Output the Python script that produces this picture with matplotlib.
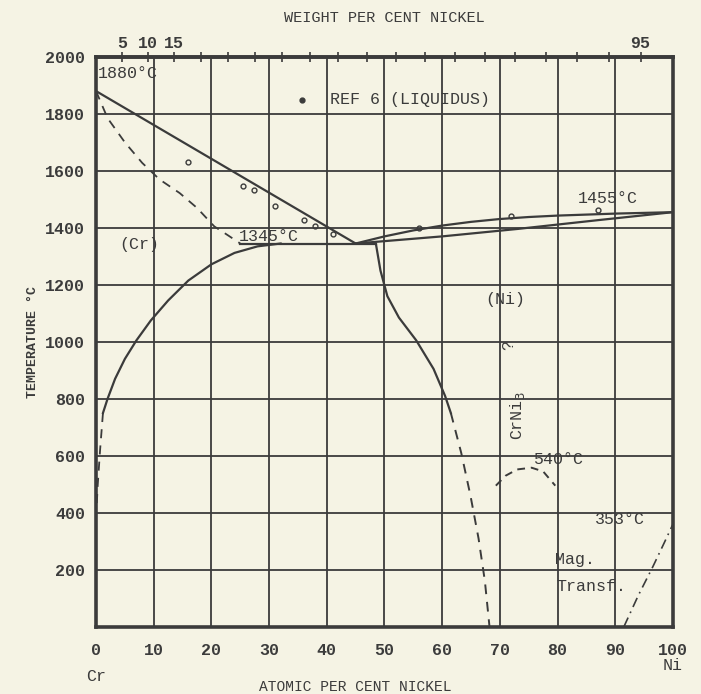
import numpy as np
import matplotlib
matplotlib.use("Agg")
import matplotlib.pyplot as plt

# --- data (atomic % Ni, deg C) ---
cr_liq_x = [0, 45]
cr_liq_y = [1880, 1345]

cr_sol_x = [0, 2, 5, 8, 11, 14.5, 17.5, 20.5, 23, 25]
cr_sol_y = [1880, 1785, 1700, 1628, 1570, 1522, 1470, 1405, 1372, 1345]

cr_solv_x = [32, 28, 24, 20, 16, 12.5, 9.5, 7, 5, 3.3, 2, 1.2]
cr_solv_y = [1345, 1335, 1312, 1272, 1215, 1145, 1075, 1005, 940, 870, 800, 750]
cr_solv_dash_x = [1.2, 0.7, 0.3, 0.1]
cr_solv_dash_y = [750, 620, 500, 420]

eut_x = [25, 48.5]
eut_y = [1345, 1345]

ni_liq_x = [45, 50, 55, 60, 65, 70, 75, 80, 90, 100]
ni_liq_y = [1345, 1370, 1391, 1408, 1421, 1431, 1438, 1443, 1450, 1455]
ni_sol_x = [45, 60, 73, 87, 100]
ni_sol_y = [1345, 1370, 1396, 1427, 1455]

ni_solv_x = [48.5, 49.3, 50.5, 52.5, 55.5, 58.5, 60.5, 61.5]
ni_solv_y = [1345, 1250, 1160, 1085, 1005, 905, 810, 750]
ni_solv_dash_x = [61.5, 63.3, 64.9, 66.3, 67.4, 68.2]
ni_solv_dash_y = [750, 610, 460, 310, 160, 0]

dome_x = [69.3, 71, 73, 75.5, 77.5, 79.6]
dome_y = [495, 530, 552, 558, 545, 495]

mag_x = [91.5, 94, 96.5, 98.5, 100]
mag_y = [0, 110, 210, 295, 360]

ref_x = [16, 25.5, 27.3, 31, 36, 38, 41, 56, 72, 87]
ref_y = [1630, 1548, 1533, 1478, 1428, 1407, 1378, 1400, 1440, 1463]

wt_ticks = list(range(5, 100, 5))
wt_labels = ["5", "10", "15"] + [""] * 15 + ["95"]

at_ticks = list(range(0, 101, 10))
temp_ticks = list(range(200, 2001, 200))

INK = "#3b3b3b"
PAPER = "#f5f3e4"
FONT = "Liberation Mono"


def wt_to_at(w):
    w = np.asarray(w, dtype=float)
    a = w / 58.69
    b = (100 - w) / 52.00
    return 100 * a / (a + b)


def at_to_wt(x):
    x = np.asarray(x, dtype=float)
    a = x * 58.69
    b = (100 - x) * 52.00
    return 100 * a / (a + b)


fig = plt.figure(figsize=(7.01, 6.94), dpi=100, facecolor=PAPER)
ax = fig.add_axes([0.137, 0.097, 0.823, 0.821], facecolor=PAPER)

ax.set_xlim(0, 100)
ax.set_ylim(0, 2000)
ax.set_xticks(at_ticks)
ax.set_yticks(temp_ticks)
ax.grid(True, color=INK, lw=1.3)
ax.tick_params(length=0, labelsize=12, colors=INK)
ax.tick_params(axis="x", pad=12)
ax.tick_params(axis="y", pad=8)
for lab in ax.get_xticklabels() + ax.get_yticklabels():
    lab.set_family(FONT)
    lab.set_weight("bold")
for s in ax.spines.values():
    s.set_color(INK)
    s.set_linewidth(2.6)

lw = 1.6
ax.plot(cr_liq_x, cr_liq_y, color=INK, lw=lw)
ax.plot(cr_sol_x, cr_sol_y, color=INK, lw=1.3, ls=(0, (5, 4)))
ax.plot(cr_solv_x, cr_solv_y, color=INK, lw=lw)
ax.plot(cr_solv_dash_x, cr_solv_dash_y, color=INK, lw=1.3, ls=(0, (5, 4)))
ax.plot(eut_x, eut_y, color=INK, lw=lw)
ax.plot(ni_liq_x, ni_liq_y, color=INK, lw=lw)
ax.plot(ni_sol_x, ni_sol_y, color=INK, lw=lw)
ax.plot(ni_solv_x, ni_solv_y, color=INK, lw=lw)
ax.plot(ni_solv_dash_x, ni_solv_dash_y, color=INK, lw=1.4, ls=(0, (5, 4)))
ax.plot(dome_x, dome_y, color=INK, lw=1.4, ls=(0, (4, 3)))
ax.plot(mag_x, mag_y, color=INK, lw=1.2, ls=(0, (6, 3, 1, 3)))
ax.plot(ref_x, ref_y, ls="none", marker="o", ms=3.5, mfc="none", mec=INK, mew=1.0)
ax.plot([35.7], [1850], ls="none", marker="o", ms=3.5, mfc=INK, mec=INK)

tk = dict(family=FONT, color=INK, fontsize=12)
ax.text(0.3, 1915, "1880\u00b0C", va="bottom", ha="left", **tk)
ax.text(40.5, 1850, "REF 6 (LIQUIDUS)", va="center", ha="left", **tk)
ax.text(30, 1368, "1345\u00b0C", va="center", ha="center", **tk)
ax.text(83.5, 1475, "1455\u00b0C", va="bottom", ha="left", **tk)
ax.text(4, 1340, "(Cr)", va="center", ha="left", **tk)
ax.text(71, 1150, "(Ni)", va="center", ha="center", **tk)
ax.text(71.5, 990, "?", va="center", ha="center", rotation=90, **tk)
ax.text(73, 740, "CrNi$_3$", va="center", ha="center", rotation=90, **tk)
ax.text(75.8, 560, "540\u00b0C", va="bottom", ha="left", **tk)
ax.text(86.5, 375, "353\u00b0C", va="center", ha="left", **tk)
ax.text(79.5, 235, "Mag.", va="center", ha="left", **tk)
ax.text(79.8, 140, "Transf.", va="center", ha="left", **tk)

ax.text(0, -0.075, "Cr", transform=ax.transAxes, ha="center", va="top", **tk)
ax.text(1.0, -0.055, "Ni", transform=ax.transAxes, ha="center", va="top", **tk)
ax.text(0.45, -0.093, "ATOMIC PER CENT NICKEL", transform=ax.transAxes,
        ha="center", va="top", family=FONT, color=INK, fontsize=10.5)
ax.set_ylabel("TEMPERATURE \u00b0C", family=FONT, fontsize=9.5, color=INK,
              labelpad=4, fontweight="bold")

top = ax.secondary_xaxis("top", functions=(at_to_wt, wt_to_at))
top.set_xticks(wt_ticks)
top.set_xticklabels(wt_labels)
top.tick_params(direction="inout", length=7, width=1.2, colors=INK, labelsize=12, pad=1)
for lab in top.get_xticklabels():
    lab.set_family(FONT)
    lab.set_weight("bold")
top.spines["top"].set_linewidth(2.6)
top.spines["top"].set_color(INK)
top.set_xlabel("WEIGHT PER CENT NICKEL", family=FONT, fontsize=11, color=INK,
               labelpad=10)

fig.savefig("out.png", dpi=100, facecolor=PAPER)
